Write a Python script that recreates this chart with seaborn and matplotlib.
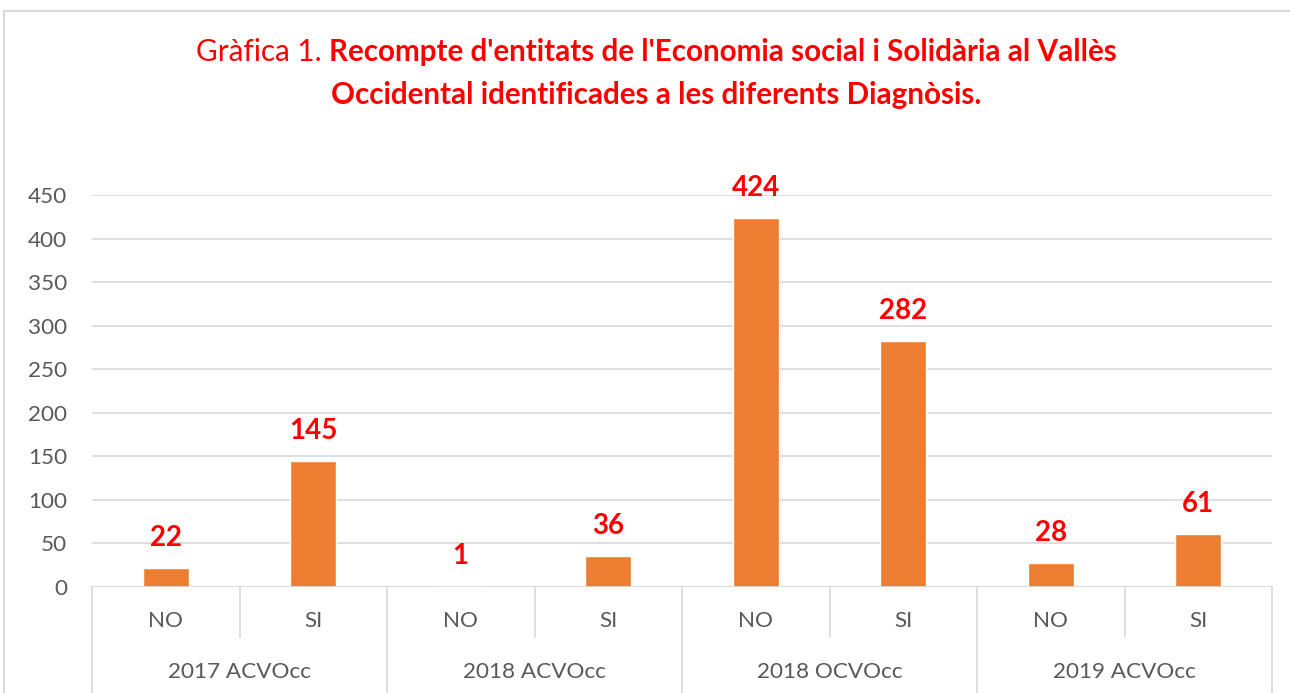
import pandas as pd
import matplotlib.pyplot as plt
import seaborn as sns
from matplotlib.lines import Line2D

# Data
groups = ["2017 ACVOcc", "2018 ACVOcc", "2018 OCVOcc", "2019 ACVOcc"]
answers = ["NO", "SI"]
values_no = [22, 1, 424, 28]
values_si = [145, 36, 282, 61]

rows = []
for g, n, s in zip(groups, values_no, values_si):
    rows.append({"key": g + " NO", "group": g, "answer": "NO", "count": n})
    rows.append({"key": g + " SI", "group": g, "answer": "SI", "count": s})
df = pd.DataFrame(rows)

sns.set_style("white")
plt.rcParams["font.family"] = ["Lato", "DejaVu Sans"]

fig = plt.figure(figsize=(12.9, 6.93), dpi=100)
ax = fig.add_axes([92 / 1290, 1 - 587 / 693, (1272 - 92) / 1290, (587 - 195) / 693])

sns.barplot(data=df, x="key", y="count", color="#ED7D31", width=0.31,
            saturation=1, ax=ax, zorder=3)

grey = "#D9D9D9"
txt = "#595959"

ax.set_ylim(0, 450)
ax.set_xlim(-0.5, len(df) - 0.5)
ax.set_yticks(range(0, 451, 50))
ax.grid(axis="y", color=grey, linewidth=1.2, zorder=0)
for sp in ax.spines.values():
    sp.set_visible(False)
ax.axhline(0, color=grey, linewidth=1.2, zorder=4)
ax.tick_params(axis="y", length=0, pad=18, labelsize=16.2, labelcolor=txt)
ax.set_xticks(range(len(df)))
ax.set_xticklabels(df["answer"])
ax.tick_params(axis="x", length=0, pad=17, labelsize=16.2, labelcolor=txt)
ax.set_xlabel("")
ax.set_ylabel("")

# value labels
for i, v in enumerate(df["count"]):
    ax.annotate(str(v), (i, v), xytext=(0, 30), textcoords="offset pixels",
                ha="center", va="center", color="#FF0000", fontsize=20,
                fontweight="bold")

# multi-level category axis
tr = ax.get_xaxis_transform()
axh = 587 - 195
for k in range(len(df) + 1):
    x = k - 0.5
    if k % 2 == 0:
        y2 = -106 / axh
    else:
        y2 = -50 / axh
    ax.add_line(Line2D([x, x], [0, y2], transform=tr, color=grey,
                       linewidth=1.2, clip_on=False))
for j, g in enumerate(groups):
    ax.text(2 * j + 0.5, -85 / axh, g, transform=tr, ha="center", va="center",
            fontsize=16.2, color=txt)

# chart border (left and top visible)
fig.add_artist(Line2D([4 / 1290, 4 / 1290], [0, 1 - 11 / 693], color=grey,
                      linewidth=1.5, transform=fig.transFigure))
fig.add_artist(Line2D([4 / 1290, 1], [1 - 11 / 693, 1 - 11 / 693], color=grey,
                      linewidth=1.5, transform=fig.transFigure))

# title with mixed weights
red = "#FF0000"
cx = 656 / 1290
tsize = 21.3
fig.canvas.draw()
r = fig.canvas.get_renderer()
t1 = fig.text(0, 1 - 52 / 693, "Gràfica 1. ", color=red, fontsize=tsize,
              va="center", ha="left")
t2 = fig.text(0, 1 - 52 / 693, "Recompte d'entitats de l'Economia social i Solidària al Vallès",
              color=red, fontsize=tsize, fontweight="bold", va="center", ha="left")
w1 = t1.get_window_extent(r).width
w2 = t2.get_window_extent(r).width
start = cx * 1290 - (w1 + w2) / 2
t1.set_x(start / 1290)
t2.set_x((start + w1) / 1290)
fig.text(cx, 1 - 95 / 693, "Occidental identificades a les diferents Diagnòsis.",
         color=red, fontsize=tsize, fontweight="bold", va="center", ha="center")

plt.savefig("out.png", dpi=100)
